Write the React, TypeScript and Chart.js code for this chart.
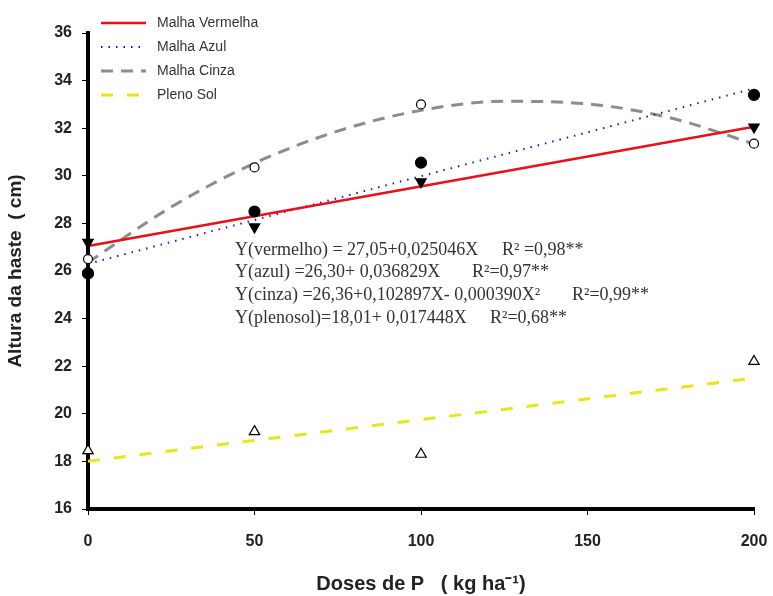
import React, { useEffect, useRef } from 'react';
import { Chart, registerables } from 'chart.js';
Chart.register(...registerables);

// Observed values (doses of P, kg/ha)
const doses = [0, 50, 100, 200];
const vermelhaObs = [27.2, 27.85, 29.75, 32.05];
const azulObs = [25.9, 28.5, 30.55, 33.4];
const cinzaObs = [26.5, 30.35, 33.0, 31.35];
const plenoObs = [18.45, 19.25, 18.3, 22.2];

// Fitted curves
const fitX = [0, 200];
const vermelhaFit = [27.05, 32.06];
const azulFit = [26.3, 33.67];
const plenoFit = [18.01, 21.5];
const cinzaFitX = [0, 25, 50, 75, 100, 125, 150, 175, 200];
const cinzaFit = [26.36, 28.69, 30.53, 31.88, 32.75, 33.13, 33.02, 32.43, 31.34];

const legendLabels = ['Malha Vermelha', 'Malha Azul', 'Malha Cinza', 'Pleno Sol'];
const equations = [
  'Y(vermelho) = 27,05+0,025046X',
  'Y(azul) =26,30+ 0,036829X',
  'Y(cinza) =26,36+0,102897X- 0,000390X\u00B2',
  'Y(plenosol)=18,01+ 0,017448X',
];
const r2Labels = ['R\u00B2 =0,98**', 'R\u00B2=0,97**', 'R\u00B2=0,99**', 'R\u00B2=0,68**'];

const pts = (xs: number[], ys: number[]) => xs.map((x, i) => ({ x, y: ys[i] }));

const RED = '#e8101c';
const BLUE = '#1c1ca8';
const GREY = '#8c8c8c';
const YELLOW = '#e6e61e';

const lineStyles = [
  { color: RED, dash: [] as number[], width: 2.5 },
  { color: BLUE, dash: [1.5, 6], width: 2 },
  { color: GREY, dash: [12, 8], width: 3 },
  { color: YELLOW, dash: [12, 14], width: 3 },
];

const overlayPlugin = {
  id: 'overlay',
  afterDraw(chart: any) {
    const ctx = chart.ctx;
    const a = chart.chartArea;
    ctx.save();
    // legend
    ctx.font = '14px "Liberation Sans", Arial, sans-serif';
    ctx.textBaseline = 'middle';
    legendLabels.forEach((lab, i) => {
      const y = 23 + i * 24;
      const st = lineStyles[i];
      ctx.strokeStyle = st.color;
      ctx.lineWidth = st.width;
      ctx.setLineDash(st.dash);
      ctx.beginPath();
      ctx.moveTo(a.left + 13, y);
      ctx.lineTo(a.left + 58, y);
      ctx.stroke();
      ctx.setLineDash([]);
      ctx.fillStyle = '#333';
      ctx.fillText(lab, a.left + 69, y);
    });
    // equations
    ctx.font = '18px "Liberation Serif", "Times New Roman", serif';
    ctx.fillStyle = '#333';
    const r2x = [502, 472, 572, 490];
    equations.forEach((eq, i) => {
      const y = 250 + i * 22.7;
      ctx.fillText(eq, 235, y);
      ctx.fillText(r2Labels[i], r2x[i], y);
    });
    ctx.restore();
  },
};

export default function App() {
  const ref = useRef<HTMLCanvasElement | null>(null);
  useEffect(() => {
    document.body.style.margin = '0';
    const fitDs = (label: string, data: any[], i: number, tension = 0) => ({
      type: 'line' as const,
      label,
      data,
      borderColor: lineStyles[i].color,
      borderWidth: lineStyles[i].width,
      borderDash: lineStyles[i].dash,
      pointRadius: 0,
      fill: false,
      tension,
      cubicInterpolationMode: tension ? ('monotone' as const) : ('default' as const),
      showLine: true,
      clip: false,
      order: 2,
    });
    const obsDs = (label: string, data: any[], style: string, rot: number, bg: string, r: number) => ({
      type: 'scatter' as const,
      label,
      data,
      pointStyle: style,
      rotation: rot,
      pointRadius: r,
      pointBackgroundColor: bg,
      pointBorderColor: '#000',
      pointBorderWidth: 1.2,
      showLine: false,
      clip: false,
      order: 1,
    });
    const chart = new Chart(ref.current as HTMLCanvasElement, {
      type: 'scatter',
      data: {
        datasets: [
          fitDs('Malha Vermelha', pts(fitX, vermelhaFit), 0),
          fitDs('Malha Azul', pts(fitX, azulFit), 1),
          fitDs('Malha Cinza', pts(cinzaFitX, cinzaFit), 2, 0.4),
          fitDs('Pleno Sol', pts(fitX, plenoFit), 3),
          obsDs('obs vermelha', pts(doses, vermelhaObs), 'triangle', 180, '#000', 6),
          obsDs('obs azul', pts(doses, azulObs), 'circle', 0, '#000', 5.5),
          obsDs('obs cinza', pts(doses, cinzaObs), 'circle', 0, '#fff', 4.5),
          obsDs('obs pleno', pts(doses, plenoObs), 'triangle', 0, '#fff', 6),
        ] as any,
      },
      options: {
        animation: false,
        responsive: false,
        layout: { padding: { top: 33, right: 0, left: 0, bottom: 0 } },
        plugins: { legend: { display: false }, tooltip: { enabled: false } },
        scales: {
          x: {
            type: 'linear',
            min: 0,
            max: 200,
            afterFit: (s: any) => { s.height = 87; s.paddingRight = 19; s.paddingLeft = 0; },
            ticks: {
              stepSize: 50,
              color: '#222',
              padding: 17,
              font: { family: '"Liberation Sans", Arial, sans-serif', size: 16, weight: 'bold' },
            },
            grid: { drawOnChartArea: false, drawTicks: true, tickLength: 6, color: '#000', lineWidth: 1 },
            border: { display: true, color: '#000', width: 4 },
            title: {
              display: true,
              text: 'Doses de P   ( kg ha\u207B\u00B9)',
              color: '#222',
              padding: { top: 0, bottom: 0 },
              font: { family: '"Liberation Sans", Arial, sans-serif', size: 20, weight: 'bold' },
            },
          },
          y: {
            type: 'linear',
            min: 16,
            max: 36,
            afterFit: (s: any) => { s.width = 88; },
            ticks: {
              stepSize: 2,
              color: '#222',
              padding: 10,
              font: { family: '"Liberation Sans", Arial, sans-serif', size: 16, weight: 'bold' },
            },
            grid: { drawOnChartArea: false, drawTicks: true, tickLength: 6, color: '#000', lineWidth: 1 },
            border: { display: true, color: '#000', width: 4 },
            title: {
              display: true,
              text: 'Altura da haste  ( cm)',
              color: '#222',
              padding: { top: 4, bottom: 0 },
              font: { family: '"Liberation Sans", Arial, sans-serif', size: 19, weight: 'bold' },
            },
          },
        },
      },
      plugins: [overlayPlugin],
    });
    return () => chart.destroy();
  }, []);
  return (
    <div style={{ position: 'absolute', left: 0, top: 0, width: 773, height: 596, background: '#fff' }}>
      <canvas ref={ref} width={773} height={596} style={{ width: 773, height: 596 }} />
    </div>
  );
}
